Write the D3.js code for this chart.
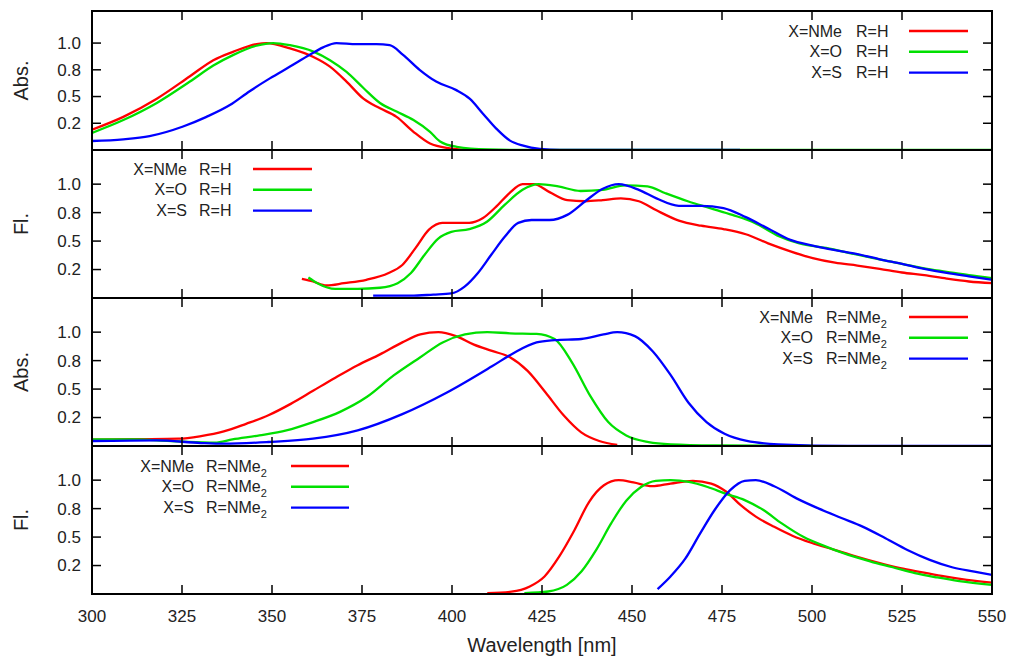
<!DOCTYPE html>
<html>
<head>
<meta charset="utf-8">
<script src="https://cdn.jsdelivr.net/npm/d3@7"></script>
<style>
  body { margin: 0; background: #fff; }
  svg text { font-family: "Liberation Sans", "DejaVu Sans", sans-serif; fill: #222; }
</style>
</head>
<body>
<svg id="chart" width="1010" height="658"></svg>
<script>
// spectra, [wavelength nm, normalised intensity]
const absH_NMe = [[300,0.19],[308.7,0.31],[318,0.48],[327.2,0.69],[333.7,0.84],[339.3,0.92],[345.7,0.99],[348.5,1.0],[355,0.95],[361.5,0.87],[366.1,0.78],[370.7,0.64],[375.4,0.48],[380,0.39],[384.6,0.31],[389.3,0.17],[393.9,0.06],[399.4,0.015],[404,0]];
const absH_O = [[300,0.16],[308.7,0.28],[318,0.44],[327.2,0.64],[333.7,0.79],[339.3,0.89],[345.7,0.975],[350.3,1.0],[355,0.98],[361.5,0.92],[366.1,0.84],[370.7,0.73],[375.4,0.58],[380,0.44],[384.6,0.36],[389.3,0.28],[393.9,0.17],[396.7,0.08],[401.3,0.03],[410,0.005],[420,0],[550,0]];
const absH_S = [[300,0.084],[308.7,0.1],[316,0.13],[325.3,0.22],[331.8,0.31],[338.3,0.42],[343.8,0.55],[349.4,0.67],[355,0.78],[360.5,0.89],[364.2,0.96],[367.9,1.0],[373.5,0.99],[379,0.99],[382.7,0.98],[386.4,0.89],[391,0.75],[395.6,0.64],[401.2,0.56],[404.9,0.48],[408.6,0.34],[412.3,0.2],[416,0.09],[419.8,0.04],[424.4,0.01],[430,0],[480,0]];

const flH_NMe = [[358.3,0.168],[361.4,0.145],[365.1,0.11],[370,0.13],[376.2,0.16],[382.4,0.22],[386.2,0.29],[389.9,0.44],[393.6,0.6],[397.3,0.66],[401,0.66],[404.8,0.66],[408.5,0.7],[412.2,0.8],[415.9,0.92],[419.6,1.0],[422.7,1.0],[427.1,0.93],[432,0.86],[437,0.85],[441.9,0.86],[446.9,0.875],[451.9,0.85],[456.8,0.77],[463,0.68],[469.2,0.635],[475.4,0.605],[481.6,0.56],[487.8,0.48],[494,0.41],[500.2,0.35],[506.4,0.31],[512.6,0.285],[518.8,0.256],[525,0.224],[531.2,0.2],[537.4,0.17],[543.6,0.145],[550,0.13]];
const flH_O = [[360.1,0.18],[362.6,0.13],[367.6,0.08],[373.8,0.08],[380,0.09],[384.9,0.13],[388.6,0.22],[392.4,0.38],[396.1,0.52],[399.8,0.58],[404.8,0.605],[409.7,0.67],[414.7,0.82],[419.6,0.95],[424,1.0],[429.5,0.98],[435.7,0.94],[441.9,0.95],[448.1,0.99],[454.3,0.98],[459.3,0.92],[465.5,0.85],[471.7,0.79],[477.9,0.73],[484.1,0.66],[490.3,0.55],[496.5,0.48],[503.9,0.44],[512.6,0.38],[518.8,0.34],[525,0.3],[531.2,0.26],[537.4,0.23],[543.6,0.2],[550,0.175]];
const flH_S = [[378.1,0.02],[388.6,0.02],[394.8,0.03],[399.8,0.04],[403.5,0.1],[407.2,0.22],[410.9,0.38],[414.7,0.54],[418.4,0.66],[422.1,0.685],[427.1,0.685],[432,0.73],[437,0.85],[441.9,0.96],[446.3,1.0],[451.9,0.95],[456.8,0.875],[463,0.81],[469.2,0.81],[475.4,0.79],[481.6,0.71],[487.8,0.61],[494,0.51],[500.2,0.46],[506.4,0.42],[512.6,0.385],[518.8,0.34],[525,0.3],[531.2,0.256],[537.4,0.22],[543.6,0.19],[550,0.16]];

const absN_NMe = [[300,0.055],[311.7,0.06],[324.1,0.064],[330.3,0.087],[336.6,0.128],[342.8,0.195],[349,0.27],[355.2,0.37],[361.4,0.485],[367.6,0.6],[373.8,0.71],[380,0.805],[386.2,0.91],[391.2,0.98],[396.2,1.0],[401.1,0.965],[406.1,0.89],[411.1,0.835],[416.1,0.78],[421,0.66],[426,0.47],[431,0.27],[435.9,0.12],[440.9,0.044],[445.9,0.01]];
const absN_O = [[300,0.058],[311.7,0.058],[324.1,0.04],[334.1,0.03],[339,0.058],[346.5,0.093],[354,0.137],[361.4,0.21],[368.9,0.3],[376.3,0.43],[383.8,0.62],[391.2,0.78],[397.4,0.91],[403.6,0.98],[409.8,1.0],[416.1,0.99],[423.5,0.985],[428.5,0.94],[433.4,0.73],[438.4,0.44],[443.4,0.21],[448.4,0.093],[454.6,0.035],[460.8,0.015],[473.2,0.005],[500,0]];
const absN_S = [[300,0.044],[317.9,0.05],[330.3,0.026],[336.6,0.02],[349,0.035],[361.4,0.064],[373.8,0.137],[386.2,0.28],[398.6,0.47],[411.1,0.7],[417.3,0.82],[423.5,0.91],[428.5,0.93],[435.9,0.94],[442.1,0.98],[445.9,1.0],[450.8,0.965],[455.8,0.83],[460.8,0.62],[465.7,0.38],[470.7,0.21],[475.7,0.107],[481.9,0.044],[490.6,0.015],[510,0],[550,0]];

const flN_NMe = [[409.8,0.008],[416.5,0.02],[421.6,0.066],[425.7,0.154],[429.8,0.33],[434,0.56],[438.1,0.81],[442.2,0.955],[446.3,1.0],[450.4,0.98],[455.6,0.947],[460.7,0.97],[466.9,0.994],[472,0.97],[476.1,0.9],[480.2,0.78],[484.4,0.68],[489.5,0.59],[494.7,0.51],[499.8,0.45],[506,0.39],[512.1,0.33],[518.3,0.275],[524.5,0.227],[530.7,0.19],[536.8,0.154],[543,0.125],[550,0.1]];
const flN_O = [[420.1,0.008],[426.7,0.022],[431.9,0.08],[436,0.2],[440.1,0.39],[444.2,0.62],[448.4,0.82],[452.5,0.94],[456.6,0.994],[460.7,1.0],[465.8,0.985],[471,0.94],[476.1,0.88],[481.3,0.825],[486.4,0.74],[491.6,0.62],[497.7,0.5],[503.9,0.416],[510.1,0.343],[516.3,0.285],[522.4,0.235],[528.6,0.183],[534.8,0.145],[540.9,0.113],[550,0.08]];
const flN_S = [[457.1,0.043],[460.7,0.154],[464.8,0.31],[468.9,0.53],[473,0.74],[477.2,0.91],[481.3,0.994],[484.4,1.0],[489.5,0.947],[495.7,0.84],[501.9,0.75],[508,0.67],[514.2,0.59],[520.4,0.49],[526.5,0.387],[532.7,0.3],[538.9,0.235],[545.1,0.197],[550,0.168]];

const xTicks = [300, 325, 350, 375, 400, 425, 450, 475, 500, 525, 550];
const yTicks = [0.25, 0.5, 0.75, 1.0];
const yTickLabels = ["0.2", "0.5", "0.8", "1.0"];
const xLabel = "Wavelength [nm]";

const colors = ["#ff0000", "#00e000", "#0000ff"];
const legendX = ["X=NMe", "X=O", "X=S"];

const panels = [
  { top: 11, bottom: 150, ylabel: "Abs.", series: [absH_NMe, absH_O, absH_S], r: "H", legend: { col1: 842, col2: 856, l0: 909, l1: 968, y: 31 } },
  { top: 150, bottom: 298, ylabel: "Fl.", series: [flH_NMe, flH_O, flH_S], r: "H", legend: { col1: 187, col2: 199, l0: 253, l1: 312, y: 169 } },
  { top: 298, bottom: 446, ylabel: "Abs.", series: [absN_NMe, absN_O, absN_S], r: "NMe2", legend: { col1: 813, col2: 826, l0: 909, l1: 968, y: 317 } },
  { top: 446, bottom: 594, ylabel: "Fl.", series: [flN_NMe, flN_O, flN_S], r: "NMe2", legend: { col1: 194, col2: 206, l0: 291, l1: 349, y: 466 } }
];

const left = 92, right = 992;
const svg = d3.select("#chart");
const x = d3.scaleLinear().domain([300, 550]).range([left, right]);
const tickLen = 9;

panels.forEach((p, i) => {
  const y = d3.scaleLinear().domain([0, 1.3]).range([p.bottom, p.top]);
  const g = svg.append("g");

  g.append("clipPath").attr("id", "clip" + i)
    .append("rect").attr("x", left).attr("y", p.top).attr("width", right - left).attr("height", p.bottom - p.top);

  const line = d3.line()
    .x(d => x(d[0]))
    .y(d => y(d[1]))
    .curve(d3.curveMonotoneX);

  p.series.forEach((s, k) => {
    g.append("path")
      .attr("d", line(s))
      .attr("fill", "none")
      .attr("stroke", colors[k])
      .attr("stroke-width", 2.3)
      .attr("clip-path", "url(#clip" + i + ")");
  });

  // ticks, mirrored on all four sides
  xTicks.slice(1, -1).forEach(t => {
    g.append("line").attr("x1", x(t)).attr("x2", x(t)).attr("y1", p.bottom).attr("y2", p.bottom - tickLen)
      .attr("stroke", "#000").attr("stroke-width", 1.5);
    g.append("line").attr("x1", x(t)).attr("x2", x(t)).attr("y1", p.top).attr("y2", p.top + tickLen)
      .attr("stroke", "#000").attr("stroke-width", 1.5);
  });
  yTicks.forEach((t, j) => {
    g.append("line").attr("x1", left).attr("x2", left + tickLen).attr("y1", y(t)).attr("y2", y(t))
      .attr("stroke", "#000").attr("stroke-width", 1.5);
    g.append("line").attr("x1", right).attr("x2", right - tickLen).attr("y1", y(t)).attr("y2", y(t))
      .attr("stroke", "#000").attr("stroke-width", 1.5);
    g.append("text").attr("x", left - 11).attr("y", y(t)).attr("dy", "0.35em")
      .attr("text-anchor", "end").attr("font-size", "17px").text(yTickLabels[j]);
  });

  g.append("rect").attr("x", left).attr("y", p.top).attr("width", right - left).attr("height", p.bottom - p.top)
    .attr("fill", "none").attr("stroke", "#000").attr("stroke-width", 2);

  g.append("text")
    .attr("transform", `translate(28,${(p.top + p.bottom) / 2}) rotate(-90)`)
    .attr("text-anchor", "middle").attr("font-size", "20px").text(p.ylabel);

  // legend
  const L = p.legend;
  legendX.forEach((lab, k) => {
    const ly = L.y + k * 20.8;
    g.append("text").attr("x", L.col1).attr("y", ly).attr("dy", "0.35em")
      .attr("text-anchor", "end").attr("font-size", "16px").text(lab);
    const t2 = g.append("text").attr("x", L.col2).attr("y", ly).attr("dy", "0.35em")
      .attr("font-size", "16px");
    if (p.r === "NMe2") {
      t2.append("tspan").text("R=NMe");
      t2.append("tspan").attr("font-size", "11px").attr("dy", "5").text("2");
    } else {
      t2.text("R=" + p.r);
    }
    g.append("line").attr("x1", L.l0).attr("x2", L.l1).attr("y1", ly).attr("y2", ly)
      .attr("stroke", colors[k]).attr("stroke-width", 2.4);
  });
});

// bottom axis labels
xTicks.forEach(t => {
  svg.append("text").attr("x", x(t)).attr("y", 622)
    .attr("text-anchor", "middle").attr("font-size", "17px").text(t);
});
svg.append("text").attr("x", (left + right) / 2).attr("y", 652)
  .attr("text-anchor", "middle").attr("font-size", "20px").text(xLabel);
</script>
</body>
</html>
